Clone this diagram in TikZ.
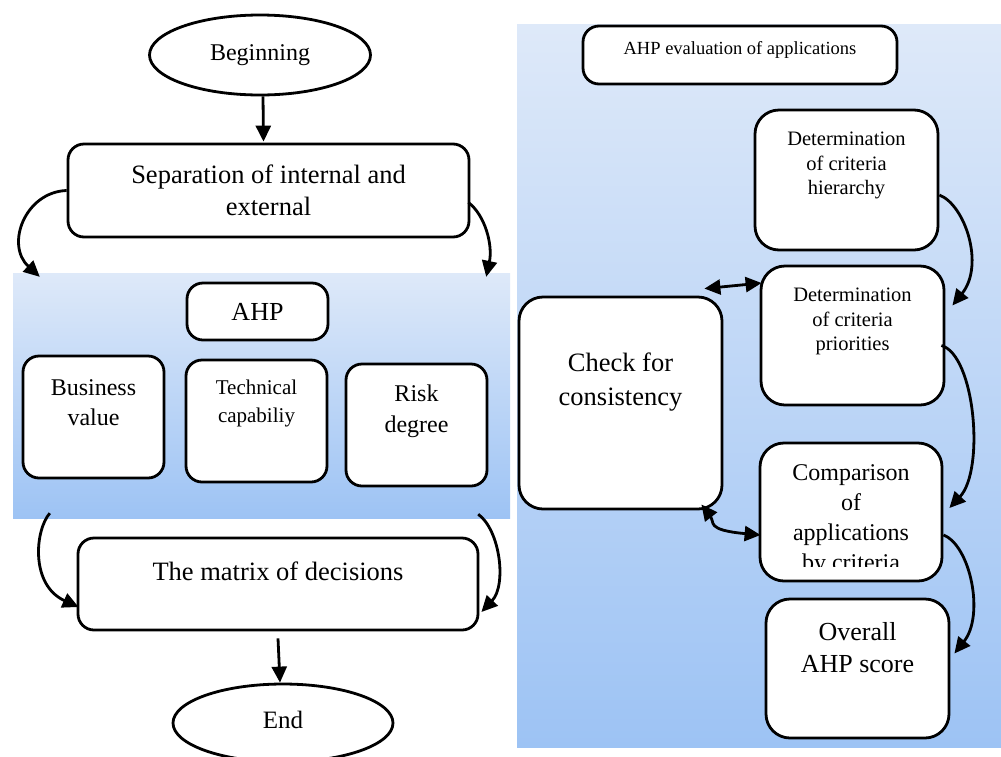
\documentclass[tikz,border=0pt]{standalone}
\usepackage{fontspec}
\setmainfont{Liberation Serif}
\usetikzlibrary{arrows.meta,shapes.geometric,calc}
\newcommand{\fsz}[2]{\fontsize{#1}{#2}\selectfont}
\definecolor{ptop}{RGB}{222,233,249}
\definecolor{pbot}{RGB}{157,195,244}
\begin{document}
\begin{tikzpicture}[x=1pt,y=-1pt,
  box/.style={draw, line width=2.8pt, rounded corners=16pt, fill=white, inner sep=0pt},
  bigbox/.style={box, rounded corners=24pt},
  oval/.style={draw, ellipse, line width=2.8pt, fill=white, inner sep=0pt},
  panel/.style={draw=none, top color=ptop, bottom color=pbot, inner sep=0pt},
  arr/.style={line width=2.8pt, -{Triangle[length=16pt,width=15pt]}},
  darr/.style={line width=2.8pt, {Triangle[length=16pt,width=15pt]}-{Triangle[length=16pt,width=15pt]}},
  lab/.style={align=center}
]
\useasboundingbox (0,0) rectangle (1001,756);
\fill[white] (0,0) rectangle (1001,756);

% panels
\node[panel, minimum width=497pt, minimum height=245pt] (lpanel) at (261.5,395.5) {};
\node[panel, minimum width=484pt, minimum height=723pt] (rpanel) at (759,385.5) {};

% left column
\node[oval, minimum width=221pt, minimum height=80pt, font=\fsz{24}{29}] (begin) at (260,55) {Beginning};
\node[box, minimum width=401pt, minimum height=93pt, align=center, font=\fsz{26.5}{32}] (sep) at (268.5,190.5) {Separation of internal and\\external};
\node[box, minimum width=141pt, minimum height=57pt, font=\fsz{26}{31}] (ahp) at (257.5,311.5) {AHP};
\node[box, minimum width=141pt, minimum height=122pt,
  label={[lab, font=\fsz{24}{30}, yshift=14pt]center:Business\\value}] (bv) at (93.5,417) {};
\node[box, minimum width=141pt, minimum height=122pt,
  label={[lab, font=\fsz{21}{28}, yshift=18pt]center:Technical\\capabiliy}] (tc) at (256.5,421) {};
\node[box, minimum width=141pt, minimum height=122pt,
  label={[lab, font=\fsz{24}{31}, yshift=13.5pt]center:Risk\\degree}] (rd) at (416.5,425) {};
\node[box, minimum width=400pt, minimum height=92pt,
  label={[lab, font=\fsz{26.5}{31}, yshift=13pt]center:The matrix of decisions}] (mat) at (278,584) {};
\node[oval, minimum width=220pt, minimum height=78pt,
  label={[font=\fsz{25}{30}, yshift=3pt]center:End}] (end) at (283,723) {};

% right column
\node[box, minimum width=314pt, minimum height=58pt,
  label={[lab, font=\fsz{18.5}{22}, yshift=5pt]center:AHP evaluation of applications}] (eval) at (740,55) {};
\node[bigbox, minimum width=183pt, minimum height=140pt,
  label={[lab, font=\fsz{20.5}{24.5}, yshift=14.5pt]center:Determination\\of criteria\\hierarchy}] (hier) at (846.5,180) {};
\node[bigbox, minimum width=183pt, minimum height=139pt,
  label={[lab, font=\fsz{20.5}{24.5}, yshift=14pt]center:Determination\\of criteria\\priorities}] (prio) at (852.5,335.5) {};
\node[bigbox, minimum width=203pt, minimum height=212pt,
  label={[lab, font=\fsz{26.5}{34}, yshift=21pt]center:Check for\\consistency}] (chk) at (620.5,403) {};
\node[bigbox, minimum width=182pt, minimum height=138pt] (cmp) at (851,512) {};
\begin{scope}
  \clip (760,443) rectangle (942,566);
  \node[lab, font=\fsz{24}{30}] (cmptxt) at ($(cmp.center)+(0,8)$) {Comparison\\of\\applications\\by criteria};
\end{scope}
\node[bigbox, minimum width=183pt, minimum height=139pt,
  label={[lab, font=\fsz{26}{32}, yshift=20.5pt]center:Overall\\AHP score}] (ovr) at (857.5,668.5) {};

% connectors left
\draw[arr] ($(begin.south)+(3,0)$) -- ($(sep.north)+(-5,-1)$);
\draw[arr] (sep.west) .. controls (25,192) and (5,245) .. ($(lpanel.north west)+(27,4)$);
\draw[arr] ($(sep.east)+(-2,12)$) .. controls (485,215) and (493,245) .. ($(lpanel.north east)+(-24,4)$);
\draw[arr] ($(lpanel.south west)+(37,-5)$) .. controls (35,530) and (30,585) .. ($(mat.west)+(2,23)$);
\draw[arr] ($(lpanel.south east)+(-32,-4)$) .. controls (500,530) and (507,585) .. ($(mat.east)+(2,28)$);
\draw[arr] ($(mat.south)+(0,7)$) -- ($(end.north)+(-3,0)$);

% connectors right
\draw[arr] ($(hier.east)+(0,15)$) .. controls (965,205) and (985,265) .. ($(prio.east)+(7,-30)$);
\draw[arr] ($(prio.east)+(-4,10)$) .. controls (975,355) and (985,470) .. ($(cmp.east)+(6,-4)$);
\draw[arr] ($(cmp.east)+(0,23)$) .. controls (970,545) and (985,615) .. ($(ovr.east)+(4,-15)$);
\draw[darr] ($(chk.north east)+(-19,-7)$) -- ($(prio.west)+(2,-52.5)$);
\draw[darr] ($(chk.south east)+(-22,-6)$) .. controls (715,522) and (705,530) .. ($(cmp.west)+(2,23)$);
\end{tikzpicture}
\end{document}
